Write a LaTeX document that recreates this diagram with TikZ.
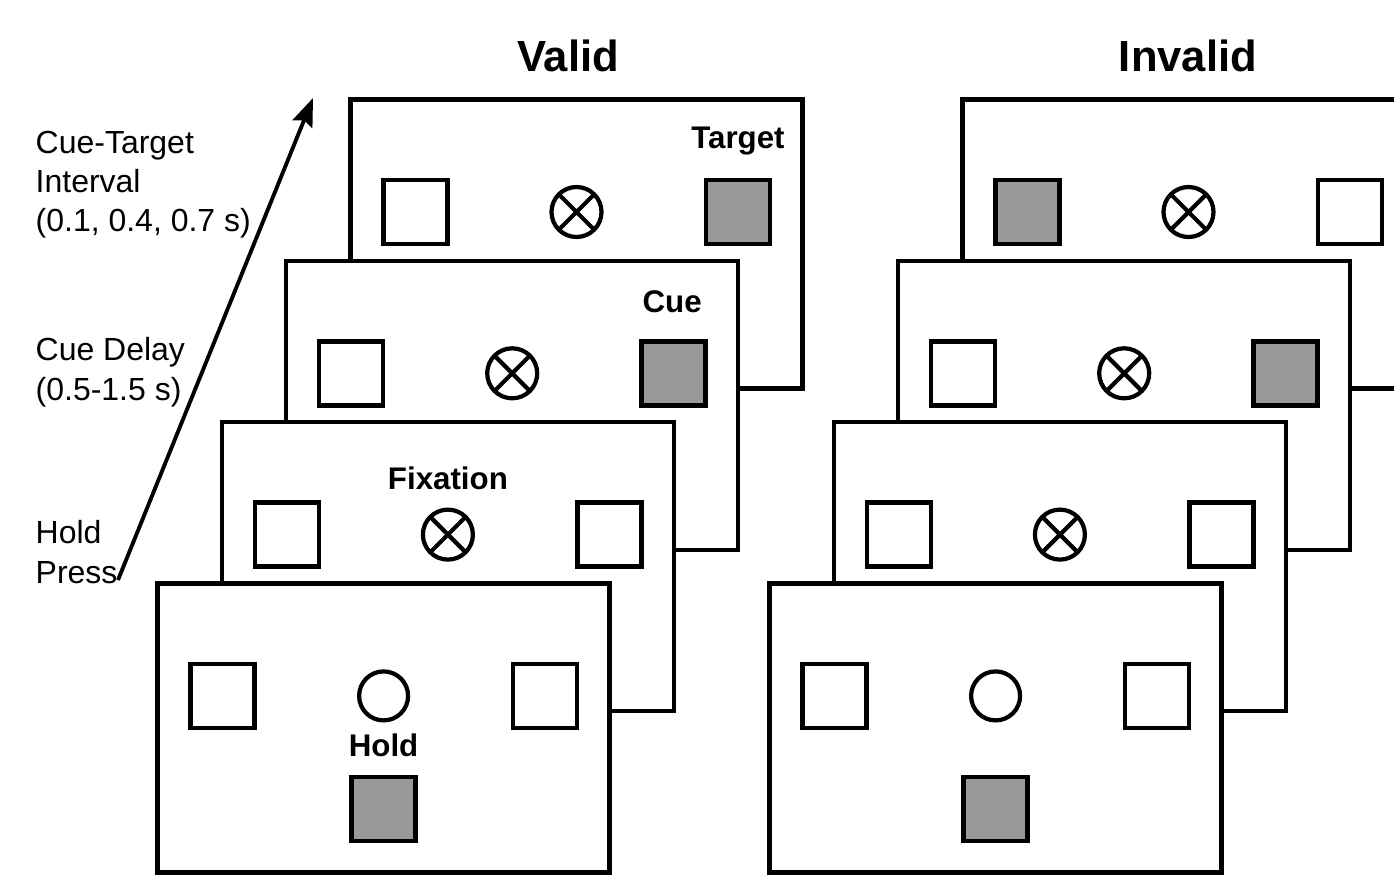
\documentclass[tikz,border=0pt]{standalone}
\usepackage{fontspec}
\setmainfont{Liberation Sans}
\usetikzlibrary{positioning,arrows.meta}
\definecolor{stimgray}{HTML}{999999}
\tikzstyle{arrow} = [line width=1.1pt,-{Stealth[length=0.28cm,width=0.21cm,inset=0.04cm]}]
\tikzstyle{frame} = [rectangle, draw=black, fill=white, line width=1.3pt, minimum width=4.52cm, minimum height=2.89cm]
\tikzstyle{box} = [rectangle, draw=black, line width=1.3pt, minimum size=0.64cm, inner sep=0pt]
\tikzstyle{dot} = [circle, draw=black, fill=white, line width=1.2pt, minimum size=0.49cm, inner sep=0pt]
\tikzstyle{xdot} = [dot, minimum size=0.5cm, path picture={\draw[line width=1.2pt] (path picture bounding box.north east) -- (path picture bounding box.south west) (path picture bounding box.north west) -- (path picture bounding box.south east);}]
\tikzstyle{tag} = [font=\fontsize{8.9}{11}\selectfont\bfseries]
\tikzstyle{title} = [font=\fontsize{12.4}{14}\selectfont\bfseries]
\tikzstyle{note} = [font=\fontsize{9.1}{11.2}\selectfont, align=left, anchor=north west, inner sep=0pt]

\begin{document}
\begin{tikzpicture}[on grid]
  \clip (0,0) rectangle (13.94,8.82);
  % two stacks of screens, back one first
  \foreach \cond/\x/\lf/\rf in {v/5.765/white/stimgray, i/11.885/stimgray/white}{
    \foreach \n/\lfill/\rfill in {4/\lf/\rf, 3/white/stimgray, 2/white/white}{
      \node[frame] (\cond_\n) at ({\x-(4-\n)*0.643},{6.38-(4-\n)*1.613}) {};
      \node[box,fill=\lfill] (\cond_\n_l) [above left=0.32cm and 1.61cm of \cond_\n] {};
      \node[xdot] (\cond_\n_c) [above=0.32cm of \cond_\n] {};
      \node[box,fill=\rfill] (\cond_\n_r) [above right=0.32cm and 1.615cm of \cond_\n] {};
    }
    % hold screen in front
    \node[frame] (\cond_1) [below left=1.613cm and 0.643cm of \cond_2] {};
    \node[box,fill=white] (\cond_1_l) [above left=0.32cm and 1.61cm of \cond_1] {};
    \node[dot] (\cond_1_c) [above=0.32cm of \cond_1] {};
    \node[box,fill=white] (\cond_1_r) [above right=0.32cm and 1.615cm of \cond_1] {};
    \node[box,fill=stimgray] (\cond_1_b) [below=0.81cm of \cond_1] {};
  }

  \node[tag] (t_target) [above right=1.03cm and 1.615cm of v_4] {Target};
  \node[tag] (t_cue) [above right=1.04cm and 1.60cm of v_3] {Cue};
  \node[tag] (t_fix) [above=0.88cm of v_2] {Fixation};
  \node[tag] (t_hold) [below=0.17cm of v_1] {Hold};

  \node[title] (valid) at (5.68,8.26) {Valid};
  \node[title] (invalid) at (11.88,8.26) {Invalid};

  % time axis
  \coordinate (t_0) at (1.18,3.02);
  \coordinate (t_1) at (3.13,7.84);
  \draw[arrow] (t_0) -- (t_1);
  \node[note] (n_ct) at (0.35,7.52) {Cue-Target\\Interval\\(0.1, 0.4, 0.7 s)};
  \node[note] (n_cd) at (0.35,5.45) {Cue Delay\\(0.5-1.5 s)};
  \node[note] (n_hp) at (0.35,3.62) {Hold\\Press};
\end{tikzpicture}
\end{document}
